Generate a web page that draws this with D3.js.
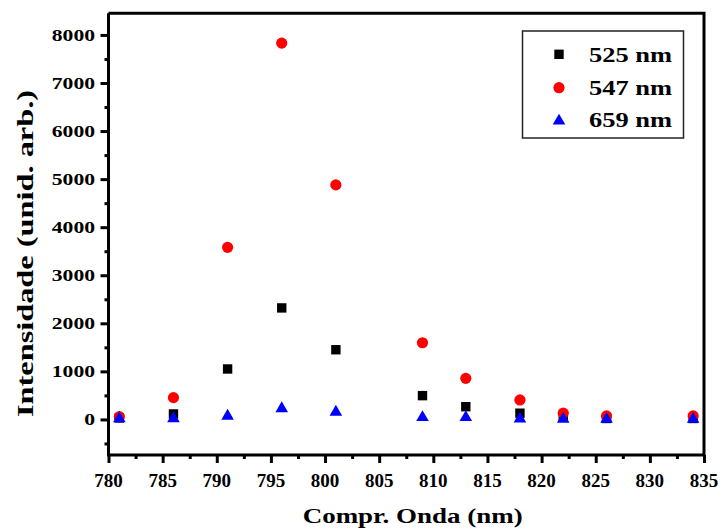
<!DOCTYPE html>
<html>
<head>
<meta charset="utf-8">
<script src="https://cdn.jsdelivr.net/npm/d3@7"></script>
<style>
  body { margin: 0; background: #fff; }
</style>
</head>
<body>
<div id="chart"></div>
<script>
// data
const wavelengths = [781, 786, 791, 796, 801, 809, 813, 818, 822, 826, 834];
const series525 = [30, 114, 1050, 2320, 1450, 495, 265, 130, 60, 20, 20];
const series547 = [58, 454, 3580, 7830, 4880, 1595, 855, 406, 130, 73, 73];
const series659 = [52, 52, 104, 260, 187, 77, 77, 42, 40, 40, 40];
const seriesNames = ["525 nm", "547 nm", "659 nm"];
const xTicks = [780, 785, 790, 795, 800, 805, 810, 815, 820, 825, 830, 835];
const yTicks = [0, 1000, 2000, 3000, 4000, 5000, 6000, 7000, 8000];

const fontFamily = "Liberation Serif";

// set the dimensions of the frame
const width = 722, height = 531;
const frame = { left: 108.5, right: 704, top: 13.3, bottom: 455 };

const svg = d3.select("#chart")
  .append("svg")
  .attr("width", width)
  .attr("height", height)
  .attr("font-family", fontFamily)
  .attr("font-weight", "bold");

const x = d3.scaleLinear().domain([780, 835]).range([frame.left, frame.right]);
const y = d3.scaleLinear().domain([-740, 8450]).range([frame.bottom, frame.top]);

// frame top / right
svg.append("path")
  .attr("d", `M${frame.left},${frame.top}H${frame.right}V${frame.bottom}`)
  .attr("fill", "none")
  .attr("stroke", "black")
  .attr("stroke-width", 3);

// bottom axis
const xAxis = svg.append("g")
  .attr("transform", `translate(0,${frame.bottom})`);
xAxis.append("g").call(d3.axisBottom(x).tickValues(d3.range(782.5, 835, 5)).tickSize(4).tickFormat(""));
xAxis.append("g").call(d3.axisBottom(x).tickValues(xTicks).tickSize(8).tickFormat(""));
xAxis.selectAll("line").attr("stroke-width", 3);
xAxis.selectAll(".domain").remove();

xAxis.selectAll(null)
  .data(xTicks)
  .join("text")
    .attr("x", d => x(d))
    .attr("y", 31.5)
    .attr("text-anchor", "middle")
    .attr("font-family", fontFamily)
    .attr("font-size", "19px")
    .text(d => d);

// left axis
const yAxis = svg.append("g")
  .attr("transform", `translate(${frame.left},0)`);
yAxis.append("g").call(d3.axisLeft(y).tickValues(d3.range(-500, 8500, 1000)).tickSize(4).tickFormat(""));
yAxis.append("g").call(d3.axisLeft(y).tickValues(yTicks).tickSize(8).tickFormat(""));
yAxis.selectAll("line").attr("stroke-width", 3);
yAxis.selectAll(".domain").remove();

yAxis.selectAll(null)
  .data(yTicks)
  .join("text")
    .attr("x", -13.5)
    .attr("y", d => y(d) + 5.8)
    .attr("text-anchor", "end")
    .attr("font-family", fontFamily)
    .attr("font-size", "17px")
    .attr("textLength", d => String(d).length * 10.8)
    .attr("lengthAdjust", "spacingAndGlyphs")
    .text(d => d);

// axis lines drawn over the ticks
svg.append("path")
  .attr("d", `M${frame.left},${frame.top}V${frame.bottom}H${frame.right}`)
  .attr("fill", "none")
  .attr("stroke", "black")
  .attr("stroke-width", 3);

// axis titles
svg.append("text")
  .attr("x", 412.7)
  .attr("y", 523)
  .attr("text-anchor", "middle")
  .attr("font-size", "22px")
  .attr("textLength", 220)
  .attr("lengthAdjust", "spacingAndGlyphs")
  .text("Compr. Onda (nm)");

svg.append("text")
  .attr("transform", "translate(33,253.5) rotate(-90)")
  .attr("text-anchor", "middle")
  .attr("font-size", "24px")
  .attr("textLength", 327)
  .attr("lengthAdjust", "spacingAndGlyphs")
  .text("Intensidade (unid. arb.)");

// symbols
const square = "M-4.7,-4.7H4.7V4.7H-4.7Z";
const triangle = "M0,-5.6L6.3,5.2H-6.3Z";
const markers = [
  { values: series525, color: "black", draw: g => g.append("path").attr("d", square) },
  { values: series547, color: "#ff0000", draw: g => g.append("circle").attr("r", 5.6) },
  { values: series659, color: "#0000ff", draw: g => g.append("path").attr("d", triangle) }
];

markers.forEach(function (m) {
  svg.append("g")
    .selectAll("g")
    .data(wavelengths.map((w, i) => [w, m.values[i]]))
    .join("g")
      .attr("transform", d => `translate(${x(d[0])},${y(d[1])})`)
      .each(function () { m.draw(d3.select(this)).attr("fill", m.color); });
});

// legend
const legend = svg.append("g");
legend.append("rect")
  .attr("x", 522.5)
  .attr("y", 31)
  .attr("width", 161)
  .attr("height", 107)
  .attr("fill", "white")
  .attr("stroke", "#222")
  .attr("stroke-width", 1.5);

const legendY = [54.3, 87.7, 119.3];
markers.forEach(function (m, i) {
  const g = legend.append("g").attr("transform", `translate(559,${legendY[i]})`);
  m.draw(g).attr("fill", m.color);
  legend.append("text")
    .attr("x", 589)
    .attr("y", legendY[i] + 7.5)
    .attr("font-size", "22px")
    .attr("textLength", 83)
    .attr("lengthAdjust", "spacingAndGlyphs")
    .text(seriesNames[i]);
});
</script>
</body>
</html>
